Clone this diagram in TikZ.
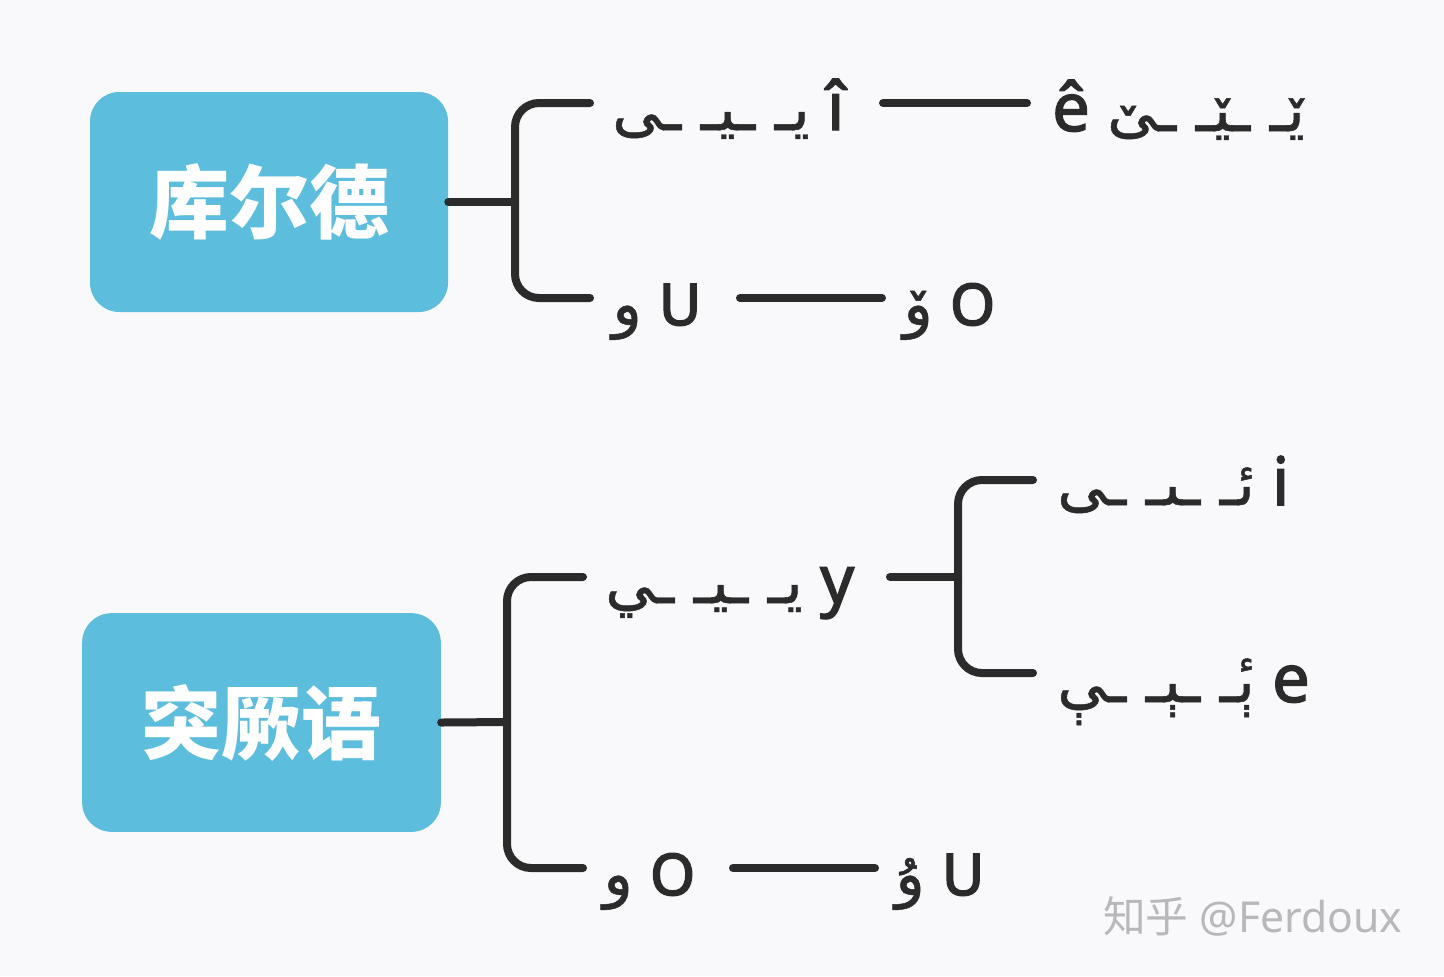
\documentclass[tikz,border=0pt]{standalone}
\usepackage{fontspec}
\setmainfont{Noto Sans}
\newfontfamily\latb{Noto Sans}[FakeBold=2.2]
\newfontfamily\latbb{Noto Sans}[FakeBold=3.2]
\newfontfamily\arabicfont[Script=Arabic,FakeBold=0.8]{DejaVu Sans}
\newfontfamily\cjk{Noto Sans CJK SC}
\TeXXeTstate=1
\definecolor{boxblue}{HTML}{5DBDDD}
\definecolor{linecol}{HTML}{2B2B2B}
\definecolor{bgcol}{HTML}{F9F9FC}
\definecolor{wmcol}{HTML}{B8B8BC}
\newcommand{\ar}[1]{{\arabicfont\fontsize{46}{46}\selectfont\beginR #1\endR}}
\newcommand{\capl}[1]{{\latbb\fontsize{43}{43}\selectfont #1}}
\begin{document}
\begin{tikzpicture}[x=0.75pt,y=-0.75pt,
  box/.style={fill=boxblue, rounded corners=22pt, inner sep=0pt, text=white,
    font=\cjk\bfseries\fontsize{60}{60}\selectfont},
  conn/.style={draw=linecol, line width=6pt, line cap=round, line join=round},
  bracket/.style={conn, rounded corners=18pt},
  lbl/.style={anchor=base west, inner sep=0pt, text=linecol, font=\latb\fontsize{50}{50}\selectfont},
  wm/.style={anchor=base west, inner sep=0pt, text=wmcol, font=\fontsize{32}{32}\selectfont}]
\path[fill=bgcol] (0,0) rectangle (1444,976);

% boxes
\node[box, minimum width=268.5pt, minimum height=165pt] (kurd) at (269,202) {库尔德};
\node[box, minimum width=269pt, minimum height=164pt] (turk) at (261.5,722.5) {突厥语};

% coordinates for brackets
\coordinate (j1) at (515,202);
\coordinate (j1t) at (590,103);
\coordinate (j1b) at (590,298);
\coordinate (j2) at (507,722);
\coordinate (j2t) at (583,577);
\coordinate (j2b) at (583,868);
\coordinate (j3) at (958,577);
\coordinate (j3t) at (1033,480);
\coordinate (j3b) at (1033,673);

% labels
\node[lbl] (ii) at (612,130) {\ar{یـ ـیـ ـی} î};
\node[lbl] (ee) at (1052,131) {ê \ar{ێـ ـێـ ـێ}};
\node[lbl] (uu) at (612,325) {\ar{و} \capl{U}};
\node[lbl] (oo) at (903,325) {\ar{ۆ} \capl{O}};
\node[lbl] (yy) at (605,603) {\ar{يـ ـيـ ـي} y};
\node[lbl] (ti) at (1057,505) {\ar{ئـ ـىـ ـى} i};
\node[lbl] (te) at (1057,702) {\ar{ېٔـ ـېـ ـې} e};
\node[lbl] (to) at (603,895) {\ar{و} \capl{O}};
\node[lbl] (tu) at (895,895) {\ar{ۇ} \capl{U}};

% short connectors
\coordinate (c1a) at (883,103);
\coordinate (c1b) at (1027,103);
\coordinate (c2a) at (740,298);
\coordinate (c2b) at (882,298);
\coordinate (c3a) at (890,577);
\coordinate (c4a) at (733,868);
\coordinate (c4b) at (875,868);

% connectors
\draw[conn] (kurd.east) -- (j1);
\draw[bracket] (j1t) -| (j1) |- (j1b);
\draw[conn] (c1a) -- (c1b);
\draw[conn] (c2a) -- (c2b);

\draw[conn] (turk.east) -- (j2);
\draw[bracket] (j2t) -| (j2) |- (j2b);
\draw[conn] (c3a) -- (j3);
\draw[bracket] (j3t) -| (j3) |- (j3b);
\draw[conn] (c4a) -- (c4b);

% watermark
\node[wm] (wm) at (1103,932) {{\cjk 知乎} @Ferdoux};
\end{tikzpicture}
\end{document}
